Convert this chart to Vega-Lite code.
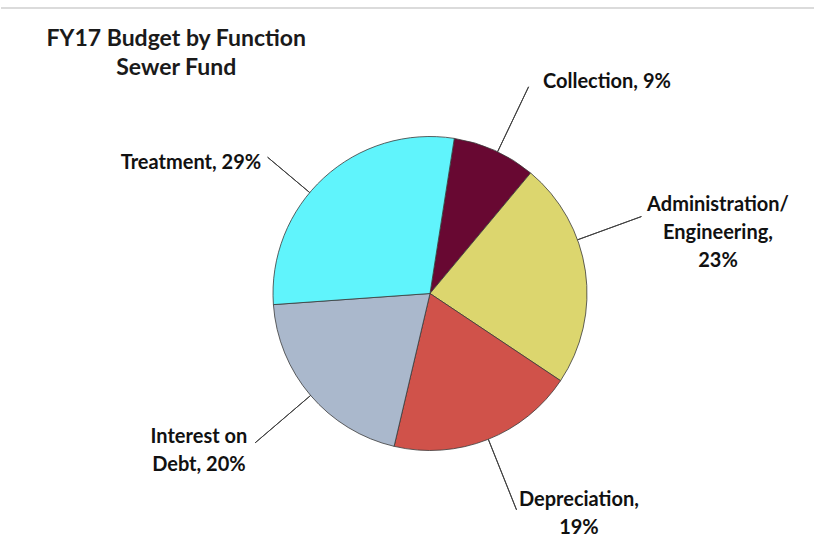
{
  "$schema": "https://vega.github.io/schema/vega-lite/v6.json",
  "width": 815,
  "height": 547,
  "autosize": {"type": "fit", "contains": "padding"},
  "padding": 0,
  "background": "white",
  "view": {"stroke": null},
  "title": {
    "text": ["FY17 Budget by Function", "Sewer Fund"],
    "anchor": "start",
    "align": "center",
    "dx": 176,
    "offset": -80,
    "font": "Lato",
    "fontSize": 23,
    "fontWeight": "bold",
    "lineHeight": 29,
    "color": "#1a1a1a"
  },
  "layer": [
    {
      "data": {"values": [{"a": 1}]},
      "mark": {"type": "rule", "stroke": "#cfcfcf", "strokeWidth": 1.5},
      "encoding": {"y": {"value": 8}}
    },
    {
      "data": {
        "values": [
          {"idx": 1, "function": "Collection", "share": 8.6},
          {"idx": 2, "function": "Administration/Engineering", "share": 23.3},
          {"idx": 3, "function": "Depreciation", "share": 19.3},
          {"idx": 4, "function": "Interest on Debt", "share": 20.2},
          {"idx": 5, "function": "Treatment", "share": 28.6}
        ]
      },
      "mark": {"type": "arc", "outerRadius": 157, "stroke": "#3a3a3a", "strokeWidth": 0.8},
      "encoding": {
        "x": {"value": 429},
        "y": {"value": 293.5},
        "theta": {
          "field": "share",
          "type": "quantitative",
          "stack": true,
          "scale": {"domain": [0, 100], "range": [0.1553, 6.4385]}
        },
        "order": {"field": "idx", "type": "quantitative"},
        "color": {
          "field": "function",
          "type": "nominal",
          "legend": null,
          "scale": {
            "domain": ["Collection", "Administration/Engineering", "Depreciation", "Interest on Debt", "Treatment"],
            "range": ["#680832", "#dcd66e", "#d0524a", "#aab8cc", "#60f4fc"]
          }
        }
      }
    },
    {
      "data": {
        "values": [
          {"function": "Collection", "angle": 25.5, "r1": 157, "r2": 229},
          {"function": "Administration/Engineering", "angle": 70, "r1": 157, "r2": 225},
          {"function": "Depreciation", "angle": 158.2, "r1": 157, "r2": 233},
          {"function": "Interest on Debt", "angle": 229.5, "r1": 157, "r2": 230},
          {"function": "Treatment", "angle": 310, "r1": 157, "r2": 212}
        ]
      },
      "mark": {"type": "arc", "stroke": "#404040", "strokeWidth": 1, "fill": null},
      "encoding": {
        "x": {"value": 429},
        "y": {"value": 293.5},
        "theta": {"field": "angle", "type": "quantitative", "stack": false, "scale": {"domain": [0, 360], "range": [0, 6.283185]}},
        "theta2": {"field": "angle"},
        "radius": {"field": "r2", "type": "quantitative", "scale": {"type": "linear", "domain": [0, 400], "range": [0, 400]}},
        "radius2": {"field": "r1"}
      }
    },
    {
      "data": {
        "values": [
          {"label": "Collection, 9%", "angle": 39.9, "r": 275.8},
          {"label": "Administration/\nEngineering,\n23%", "angle": 72.9, "r": 301.3},
          {"label": "Depreciation,\n19%", "angle": 144.2, "r": 254.6},
          {"label": "Interest on\nDebt, 20%", "angle": 238.2, "r": 271.9},
          {"label": "Treatment, 29%", "angle": 298.6, "r": 272.3}
        ]
      },
      "mark": {"type": "text", "font": "Lato", "fontSize": 20, "fontWeight": "bold", "lineBreak": "\n", "lineHeight": 28, "align": "center", "baseline": "middle", "color": "#111111"},
      "encoding": {
        "x": {"value": 429},
        "y": {"value": 293.5},
        "theta": {"field": "angle", "type": "quantitative", "stack": false, "scale": {"domain": [0, 360], "range": [0, 6.283185]}},
        "radius": {"field": "r", "type": "quantitative", "scale": {"type": "linear", "domain": [0, 400], "range": [0, 400]}},
        "text": {"field": "label"}
      }
    }
  ],
  "resolve": {"scale": {"theta": "independent", "radius": "independent", "color": "independent"}}
}
